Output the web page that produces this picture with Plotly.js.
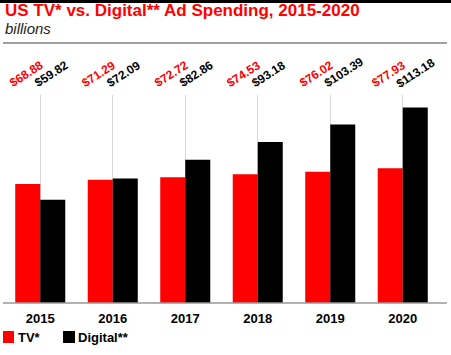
<!DOCTYPE html>
<html><head><meta charset="utf-8">
<script src="https://cdn.plot.ly/plotly-3.0.1.min.js"></script>
<style>html,body{margin:0;padding:0;background:#fff}#chart{width:451px;height:355px}</style>
</head><body><div id="chart"></div>
<script>
const years = ['2015','2016','2017','2018','2019','2020'];
const tvValues = [68.88, 71.29, 72.72, 74.53, 76.02, 77.93];
const digitalValues = [59.82, 72.09, 82.86, 93.18, 103.39, 113.18];
const tvLabels = ['$68.88','$71.29','$72.72','$74.53','$76.02','$77.93'];
const digitalLabels = ['$59.82','$72.09','$82.86','$93.18','$103.39','$113.18'];
const seriesNames = ['TV*', 'Digital**'];

const RED = '#ff0000', BLACK = '#000000';
const FONT = 'Liberation Sans, Arial, sans-serif';
const W = 451, H = 355;
const M = {l: 4, r: 12, t: 95, b: 52};
const plotW = W - M.l - M.r;
const ANG = -33;

const ctx = document.createElement('canvas').getContext('2d');
ctx.font = 'bold 12px ' + FONT;
function labelAnn(text, i, startOff, color) {
  const L = ctx.measureText(text).width;
  const capH = 9;
  const a = ANG * Math.PI / 180;
  const cx = L / 2, cy = -capH / 2;
  const dx = cx * Math.cos(a) - cy * Math.sin(a);
  const dy = cx * Math.sin(a) + cy * Math.cos(a);
  const startY = 88;
  const centerY = startY + dy;
  return {
    x: i, xref: 'x', y: 1, yref: 'paper',
    xanchor: 'center', yanchor: 'middle',
    xshift: Math.round(startOff + dx), yshift: Math.round(M.t - centerY),
    text: '<b>' + text + '</b>', textangle: ANG, showarrow: false,
    font: {family: FONT, size: 12, color: color}
  };
}

function px2paperX(px) { return (px - M.l) / plotW; }
function py2paperY(py) { return (H - M.b - py) / (H - M.t - M.b); }

const annotations = [];
years.forEach((y, i) => {
  annotations.push(labelAnn(tvLabels[i], i, -27, RED));
  annotations.push(labelAnn(digitalLabels[i], i, -2, BLACK));
});
annotations.push({xref: 'paper', yref: 'paper', x: px2paperX(3), y: py2paperY(22), xanchor: 'left', yanchor: 'bottom',
  text: '<b>US TV* vs. Digital** Ad Spending, 2015-2020</b>', showarrow: false,
  font: {family: FONT, size: 17, color: RED}});
annotations.push({xref: 'paper', yref: 'paper', x: px2paperX(3), y: py2paperY(39), xanchor: 'left', yanchor: 'bottom',
  text: '<i>billions</i>', showarrow: false,
  font: {family: FONT, size: 15, color: '#222'}});
annotations.push({xref: 'paper', yref: 'paper', x: px2paperX(16), y: py2paperY(337), xanchor: 'left', yanchor: 'middle',
  text: '<b>' + seriesNames[0] + '</b>', showarrow: false, font: {family: FONT, size: 13, color: BLACK}});
annotations.push({xref: 'paper', yref: 'paper', x: px2paperX(76), y: py2paperY(337), xanchor: 'left', yanchor: 'middle',
  text: '<b>' + seriesNames[1] + '</b>', showarrow: false, font: {family: FONT, size: 13, color: BLACK}});

const shapes = [
  {type: 'rect', xref: 'paper', yref: 'paper', x0: px2paperX(0), x1: px2paperX(451), y0: py2paperY(0), y1: py2paperY(3), fillcolor: BLACK, line: {width: 0}},
  {type: 'line', xref: 'paper', yref: 'paper', x0: px2paperX(3), x1: px2paperX(447), y0: py2paperY(43), y1: py2paperY(43), line: {color: '#a0a0a0', width: 2}},
  {type: 'line', xref: 'paper', yref: 'paper', x0: px2paperX(3), x1: px2paperX(447), y0: 0, y1: 0, line: {color: '#999', width: 1.5}},
  {type: 'rect', xref: 'paper', yref: 'paper', x0: px2paperX(3), x1: px2paperX(14), y0: py2paperY(331), y1: py2paperY(343), fillcolor: RED, line: {width: 0}},
  {type: 'rect', xref: 'paper', yref: 'paper', x0: px2paperX(63), x1: px2paperX(75), y0: py2paperY(331), y1: py2paperY(343), fillcolor: BLACK, line: {width: 0}}
];

const data = [
  {type: 'bar', name: seriesNames[0], x: years, y: tvValues, marker: {color: RED, line: {width: 0}}},
  {type: 'bar', name: seriesNames[1], x: years, y: digitalValues, marker: {color: BLACK, line: {width: 0}}}
];

const layout = {
  width: W, height: H,
  margin: M,
  paper_bgcolor: '#fff', plot_bgcolor: '#fff',
  barmode: 'group', bargap: 0.31, bargroupgap: 0,
  showlegend: false,
  xaxis: {type: 'category', range: [-0.5, 5.5], showgrid: true, gridcolor: '#d9d9d9', gridwidth: 1, ticks: '', showline: false, zeroline: false,
    tickfont: {family: FONT, size: 13, color: BLACK, weight: 'bold'}, ticklabelstandoff: 6},
  yaxis: {range: [0, 120.4], visible: false, showgrid: false, zeroline: false},
  annotations: annotations,
  shapes: shapes
};

// Make sure the rotated value labels are rendered rotated (CSS transform mirrors the SVG rotate attribute).
function fixRotation(gd) {
  gd.querySelectorAll('.annotation').forEach(node => {
    const idx = +node.getAttribute('data-index');
    const ann = gd.layout.annotations[idx];
    if (!ann || !ann.textangle) return;
    const g = node.querySelector('.annotation-text-g');
    if (!g) return;
    const t = g.getAttribute('transform') || '';
    const m = t.match(/rotate\(\s*(-?[\d.eE+-]+)[ ,]+(-?[\d.eE+-]+)[ ,]+(-?[\d.eE+-]+)\s*\)/);
    let cx, cy;
    if (m && isFinite(+m[2]) && isFinite(+m[3])) { cx = +m[2]; cy = +m[3]; }
    else { const bb = g.getBBox(); cx = bb.x + bb.width / 2; cy = bb.y + bb.height / 2; }
    g.style.transformOrigin = '0px 0px';
    g.style.transformBox = 'view-box';
    g.style.transform = 'translate(' + cx + 'px,' + cy + 'px) rotate(' + ann.textangle + 'deg) translate(' + (-cx) + 'px,' + (-cy) + 'px)';
  });
}

Plotly.newPlot('chart', data, layout, {displayModeBar: false}).then(gd => {
  fixRotation(gd);
  gd.on('plotly_afterplot', () => fixRotation(gd));
});
</script></body></html>
